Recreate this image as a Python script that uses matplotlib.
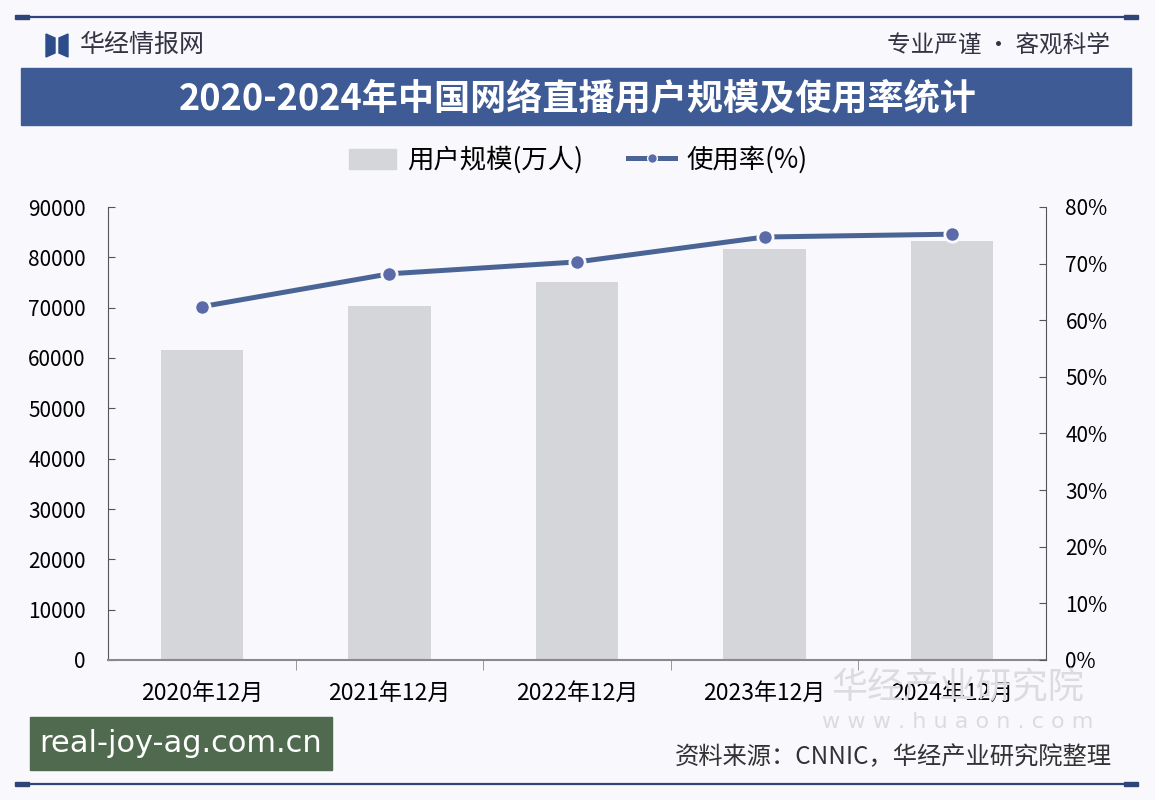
import numpy as np
import matplotlib.pyplot as plt
from matplotlib.patches import Rectangle, Polygon
from matplotlib.lines import Line2D

plt.rcParams['font.family'] = ['Liberation Sans Narrow', 'Noto Sans CJK SC', 'DejaVu Sans']

# data
categories = ['2020年12月', '2021年12月', '2022年12月', '2023年12月', '2024年12月']
users = [61685, 70337, 75065, 81566, 83327]        # 万人
usage_rate = [62.4, 68.2, 70.3, 74.7, 75.2]         # %
left_ticks = [0, 10000, 20000, 30000, 40000, 50000, 60000, 70000, 80000, 90000]
right_ticks = [0, 10, 20, 30, 40, 50, 60, 70, 80]

W, H = 1155, 800
bg = '#f9f8fc'
navy = '#2f4577'
banner = '#3f5b96'
bar_color = '#d5d6da'
line_color = '#4a6595'
dot_color = '#5b6aa8'


def fx(x):
    return x / W


def fy(y):
    return 1 - y / H


fig = plt.figure(figsize=(11.55, 8), dpi=100, facecolor=bg)

# header / footer lines
for y in (17, 784):
    fig.add_artist(Line2D([fx(22), fx(1131)], [fy(y), fy(y)], color=navy, lw=1.6))
    for x in (22, 1131):
        fig.add_artist(Rectangle((fx(x) - 0.006, fy(y) - 0.003), 0.012, 0.006,
                                 color=navy, transform=fig.transFigure))

# logo + header text
fig.add_artist(Polygon([(fx(46), fy(34)), (fx(55), fy(38)), (fx(55), fy(53)), (fx(46), fy(57))],
                       closed=True, color='#2d4c8a', transform=fig.transFigure))
fig.add_artist(Polygon([(fx(59), fy(38)), (fx(68), fy(34)), (fx(68), fy(57)), (fx(59), fy(53))],
                       closed=True, color='#2d4c8a', transform=fig.transFigure))
fig.text(fx(80), fy(45), '华经情报网', fontsize=18, color='#333344', va='center', ha='left',
         family='Noto Sans CJK SC')
fig.text(fx(1110), fy(45), '专业严谨 • 客观科学', fontsize=17, color='#333344', va='center', ha='right',
         family='Noto Sans CJK SC')

# title banner
fig.add_artist(Rectangle((fx(21), fy(125)), fx(1131) - fx(21), fy(68) - fy(125),
                         color=banner, transform=fig.transFigure))
fig.text(0.5, fy(99), '2020-2024年中国网络直播用户规模及使用率统计', fontsize=26, color='white',
         fontweight='bold', ha='center', va='center', family='Noto Sans CJK SC')

# faint watermark
fig.text(fx(958), fy(688), '华经产业研究院', fontsize=26, color='#dcdce0', ha='center', va='center',
         family='Noto Sans CJK SC', zorder=0)
fig.text(fx(958), fy(722), 'w w w . h u a o n . c o m', fontsize=16, color='#dcdce0', ha='center',
         va='center', family='DejaVu Sans', zorder=0)

# main axes
ax = fig.add_axes([fx(108), fy(660), fx(1046) - fx(108), fy(207) - fy(660)])
ax.set_facecolor('none')
x = np.arange(len(categories))
ax.bar(x, users, width=0.44, color=bar_color, zorder=2)
ax.set_xlim(-0.5, len(categories) - 0.5)
ax.set_ylim(0, 90000)
ax.set_yticks(left_ticks)
ax.set_xticks(x)
ax.set_xticklabels(categories)
ax.set_xticks(np.arange(-0.5, len(categories) + 0.5, 1)[1:-1], minor=True)
ax.tick_params(axis='x', which='major', length=0, pad=16, labelsize=16.5)
ax.tick_params(axis='x', which='minor', length=7, direction='out', color='#888888')
ax.tick_params(axis='y', direction='in', length=5, pad=16, labelsize=15, color='#555555')
for s in ('top', 'right'):
    ax.spines[s].set_visible(False)
ax.spines['left'].set_color('#555555')
ax.spines['bottom'].set_color('#8a8a8a')
ax.spines['bottom'].set_linewidth(1.5)

ax2 = ax.twinx()
ax2.plot(x, usage_rate, color=line_color, lw=3.6, marker='o', markersize=11,
         markerfacecolor=dot_color, markeredgecolor=bg, markeredgewidth=2, zorder=3)
ax2.set_ylim(0, 80)
ax2.set_yticks(right_ticks)
ax2.set_yticklabels([f'{t}%' for t in right_ticks])
ax2.tick_params(axis='y', direction='in', length=5, pad=14, labelsize=15, color='#555555')
for s in ('top', 'left', 'bottom'):
    ax2.spines[s].set_visible(False)
ax2.spines['right'].set_color('#555555')

# legend
handles = [Rectangle((0, 0), 1, 1, color=bar_color),
           Line2D([], [], color=line_color, lw=3.6, marker='o', markersize=7,
                  markerfacecolor=dot_color, markeredgecolor=bg)]
fig.legend(handles, ['用户规模(万人)', '使用率(%)'], loc='center', bbox_to_anchor=(fx(578), fy(160)),
           ncol=2, frameon=False, handlelength=1.8, handleheight=0.8, handletextpad=0.4,
           columnspacing=1.7, prop={'family': 'Noto Sans CJK SC', 'size': 19})

# source
fig.text(fx(1112), fy(757), '资料来源：CNNIC，华经产业研究院整理', fontsize=17.5, color='#333333',
         ha='right', va='center', family='Noto Sans CJK SC')

# repost watermark
fig.add_artist(Rectangle((fx(30), fy(770)), fx(332) - fx(30), fy(717) - fy(770),
                         color='#4f6a4e', transform=fig.transFigure))
fig.text(fx(181), fy(744), 'real-joy-ag.com.cn', fontsize=22, color='white', ha='center', va='center',
         family='Liberation Sans Narrow')

fig.savefig('out.png', dpi=100, facecolor=bg)
